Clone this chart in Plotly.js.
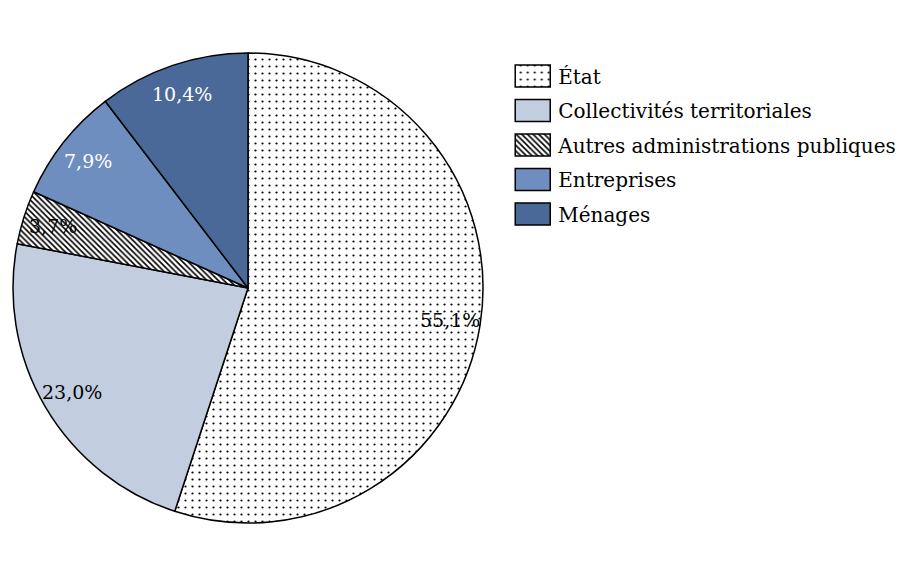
<!DOCTYPE html>
<html>
<head>
<meta charset="utf-8">
<script src="https://cdn.plot.ly/plotly-3.0.1.min.js"></script>
<style>html,body{margin:0;padding:0;background:#fff;}#chart{width:914px;height:577px;}</style>
</head>
<body>
<div id="chart"></div>
<script>
const categories = ["État", "Collectivités territoriales", "Autres administrations publiques", "Entreprises", "Ménages"];
const values = [55.1, 23.0, 3.7, 7.9, 10.4];
const colors = ["#ffffff", "#c2cde0", "#ffffff", "#6e8ebf", "#4a6999"];
const patterns = [".", "", "\\", "", ""];

const W = 914, H = 577;
const cx = 248, cy = 288, R = 235;
const FONT = "DejaVu Serif, serif";
const FS = 19;
const LFS = 20;

const total = values.reduce((a, b) => a + b, 0);
let cum = 0;
const annotations = values.map((v, i) => {
  const mid = (cum + v / 2) / total * 2 * Math.PI;
  cum += v;
  const r = 0.87 * R;
  const px = cx + r * Math.sin(mid);
  const py = cy - r * Math.cos(mid);
  return {
    x: px / W, y: 1 - py / H, xref: "paper", yref: "paper",
    text: v.toFixed(1).replace(".", ",") + "%",
    showarrow: false, xanchor: "center", yanchor: "middle",
    font: {family: FONT, size: FS, color: (i >= 3) ? "#ffffff" : "#000000"}
  };
});

const trace = {
  type: "pie",
  labels: categories,
  values: values,
  sort: false,
  direction: "clockwise",
  rotation: 0,
  textinfo: "none",
  hoverinfo: "skip",
  domain: {x: [(cx - R) / W, (cx + R) / W], y: [1 - (cy + R) / H, 1 - (cy - R) / H]},
  marker: {
    colors: colors,
    line: {color: "#000000", width: 1.5},
    pattern: {shape: patterns, fgcolor: "#000000", bgcolor: "#ffffff", size: [7, 6, 4, 6, 6], solidity: [0.08, 0.3, 0.4, 0.3, 0.3]}
  }
};

const layout = {
  width: W, height: H,
  margin: {l: 0, r: 0, t: 0, b: 0},
  paper_bgcolor: "#ffffff",
  showlegend: true,
  legend: {x: 0.567, y: 0.902, xanchor: "left", yanchor: "top",
    font: {family: FONT, size: LFS, color: "#000000"}, bgcolor: "rgba(0,0,0,0)"},
  annotations: annotations
};

Plotly.newPlot("chart", [trace], layout, {displayModeBar: false, staticPlot: true}).then(() => {
  const sb = document.querySelector(".legend .scrollbox");
  if (sb) sb.removeAttribute("clip-path");
  const items = document.querySelectorAll(".legend .traces");
  const t0 = items[0].getAttribute("transform") || "";
  const m = /translate\(\s*([-\d.]+)[ ,]+([-\d.]+)/.exec(t0);
  const x0 = m ? parseFloat(m[1]) : 0, y0 = m ? parseFloat(m[2]) : 0;
  items.forEach((g, i) => {
    g.setAttribute("transform", "translate(" + x0 + "," + (y0 + i * 34.5) + ")");
    g.querySelectorAll(".legendpoints path").forEach(p => {
      p.setAttribute("d", "M12,11H-23V-11H12Z");
      p.style.strokeWidth = "1.5px";
      p.style.stroke = "#000";
    });
  });
});
</script>
</body>
</html>
